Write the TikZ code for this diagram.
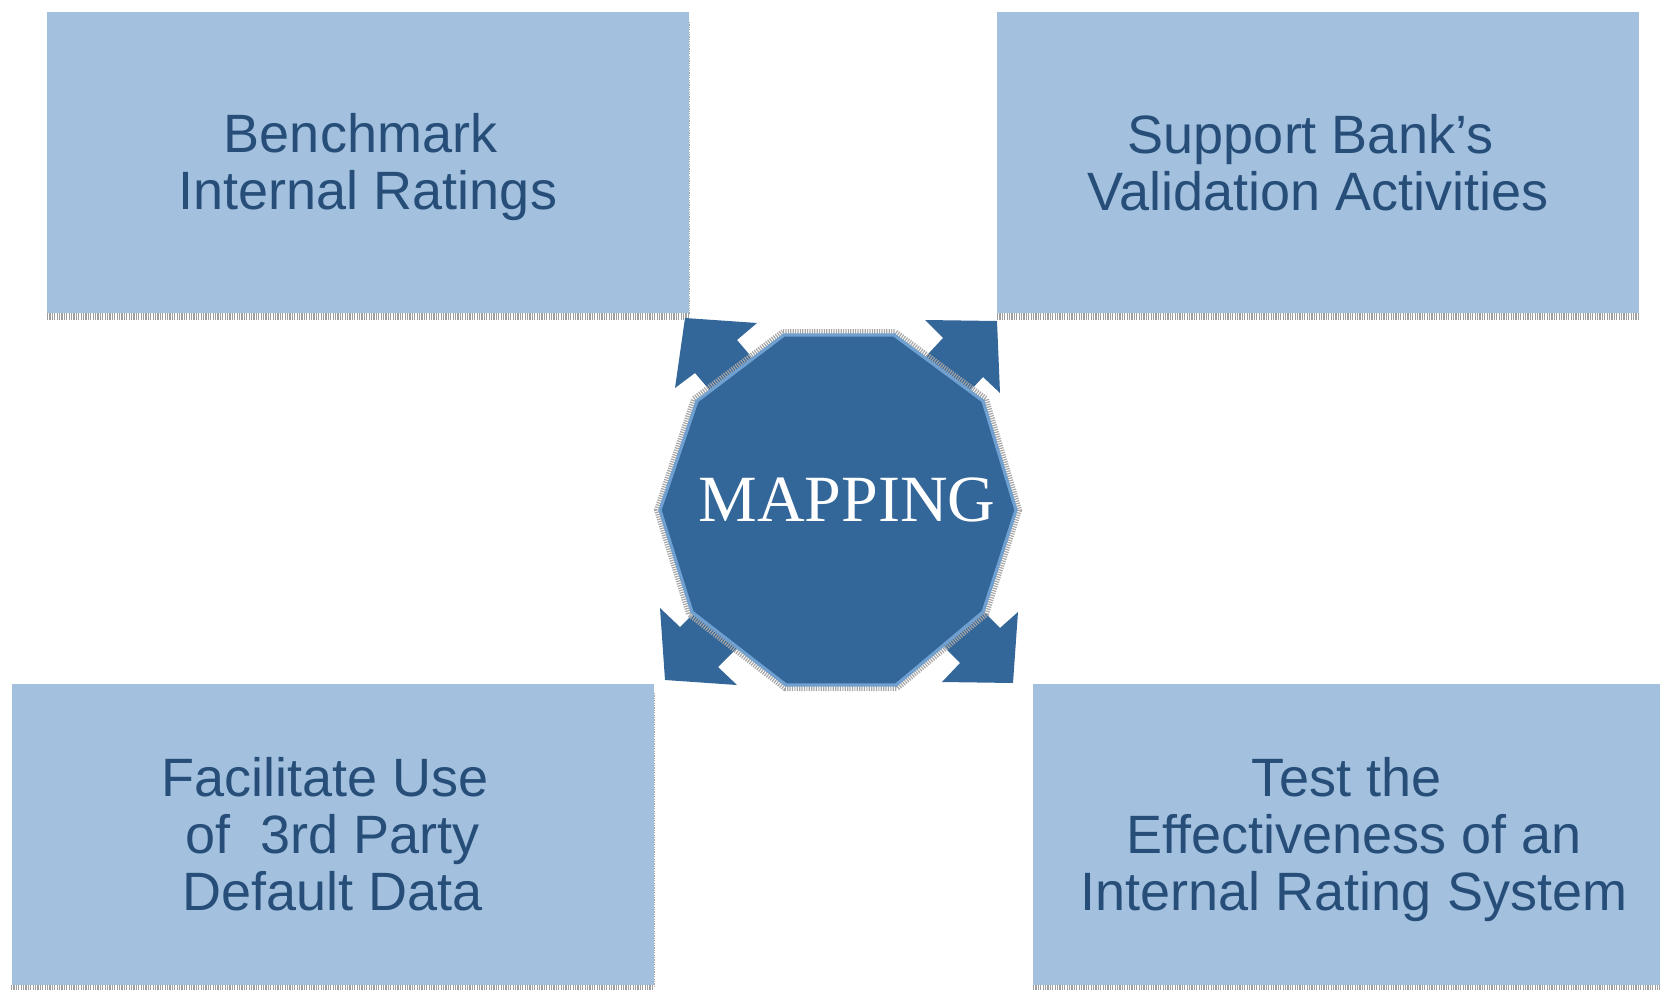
\documentclass[tikz,border=0pt]{standalone}
\usepackage{fontspec}
\setmainfont{Liberation Sans}
\newfontfamily\mapfont{Liberation Serif}
\definecolor{boxfill}{RGB}{163,193,223}
\definecolor{boxtext}{RGB}{38,78,120}
\definecolor{mapblue}{RGB}{51,102,153}
\definecolor{mapedge}{RGB}{112,160,208}
\tikzset{
  goalbox/.style={rectangle, fill=boxfill, inner sep=0pt,
    minimum width=321pt, minimum height=150.5pt},
  goaltext/.style={text=boxtext, inner sep=0pt, align=center,
    font=\fontsize{27}{28.5}\selectfont},
  boxshadow/.style={draw=gray!75, line width=3.5pt, dash pattern=on 0.6pt off 0.6pt},
  blockarrow/.style={fill=mapblue, draw=none}
}
\begin{document}
\begin{tikzpicture}[x=0.5pt,y=0.5pt,yscale=-1,xscale=1]
\useasboundingbox (0,0) rectangle (1660,990);

%Shape: Rectangle
\draw[boxshadow] (47,316) -- (689,316);
\draw[boxshadow] (997,316) -- (1639,316);
\draw[boxshadow] (11,988) -- (654,988);
\draw[boxshadow] (1033,988) -- (1675,988);
\draw[gray!70, line width=0.6pt, dash pattern=on 0.6pt off 0.6pt] (689.5,22) -- (689.5,314);
\draw[gray!70, line width=0.6pt, dash pattern=on 0.6pt off 0.6pt] (654.5,693) -- (654.5,986);
\node[goalbox] (bench) at (368,162.5) {};
\node[goalbox] (valid) at (1318,162.5) {};
\node[goalbox] (third) at (332.5,834) {};
\node[goalbox] (effect) at (1354,834) {};

% Text Node
\node[goaltext] (benchtext) at ([yshift=2.5pt]bench.center) {Benchmark\hspace*{7.5pt}\\Internal Ratings};
% Text Node
\node[goaltext] (validtext) at (valid.center) {Support Bank’s\hspace*{7.5pt}\\Validation Activities};
% Text Node
\node[goaltext] (thirdtext) at (third.center) {Facilitate Use\hspace*{7.5pt}\\of\ \ 3rd Party\hspace*{7.5pt}\\Default Data};
% Text Node
\node[goaltext] (effecttext) at ([yshift=3pt]effect.center) {Test the\hspace*{7.5pt}\\Effectiveness of an\\Internal Rating System};

%Shape: Arrows
\fill[blockarrow] (685,318) -- (757,323) -- (737,340) -- (802,416) -- (760,449) -- (695,373) -- (675,388) -- cycle;
\fill[blockarrow] (997,321) -- (1000,393) -- (983,377) -- (915,450) -- (875,411) -- (943,338) -- (925,320) -- cycle;
\fill[blockarrow] (665,680) -- (660,608) -- (680,627) -- (750,557) -- (788,597) -- (718,667) -- (737,685) -- cycle;
\fill[blockarrow] (1013,683) -- (942,682) -- (960,663) -- (890,593) -- (930,558) -- (1000,628) -- (1018,612) -- cycle;

%Shape: Octagon
\draw[gray!70, line width=3pt, dash pattern=on 0.6pt off 0.6pt] (783,332) -- (895,332) -- (986,399) -- (1019,510) -- (986,614) -- (897,688) -- (785,688) -- (689,614) -- (657,510) -- (694,399) -- cycle;
\draw[fill=mapblue, draw=mapedge, line width=1.6pt] (784,335) -- (894,335) -- (983,401) -- (1016,510) -- (983,612) -- (896,685) -- (786,685) -- (692,612) -- (660,510) -- (697,401) -- cycle;

% Text Node
\node[text=white, font=\mapfont\fontsize{33}{36}\selectfont] (map) at (847,500) {MAPPING};

\end{tikzpicture}
\end{document}
